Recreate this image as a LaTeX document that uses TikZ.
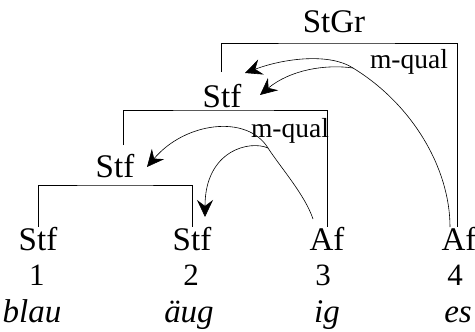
\documentclass[tikz,border=0pt]{standalone}
\usepackage{fontspec}
\setmainfont{Liberation Serif}
\usetikzlibrary{arrows.meta}
\begin{document}
\begin{tikzpicture}[x=1pt,y=-1pt,
  cat/.style={anchor=base,inner sep=0pt,font=\fontsize{33}{39}\selectfont},
  num/.style={anchor=base,inner sep=0pt,font=\fontsize{31}{36}\selectfont},
  word/.style={anchor=base,inner sep=0pt,font=\fontsize{33}{40}\selectfont\itshape},
  rel/.style={anchor=base,inner sep=0pt,font=\fontsize{27.5}{32}\selectfont},
  brk/.style={line width=0.8pt},
  dep/.style={line width=0.6pt},
  tipd/.style={-{Stealth[length=17pt,width=16pt,inset=6pt]}}]
\useasboundingbox (0,0) rectangle (475,332);
% bottom row
\node[cat] (s1) at (38,250) {Stf};
\node[cat] (s2) at (192,250) {Stf};
\node[cat] (a3) at (327,250) {Af};
\node[cat] (a4) at (459,250) {Af};
\node[num] (n1) at (37,285) {1};
\node[num] (n2) at (191,285) {2};
\node[num] (n3) at (323,285) {3};
\node[num] (n4) at (455,285) {4};
\node[word] (w1) at (32,322) {blau};
\node[word] (w2) at (189,322) {äug};
\node[word] (w3) at (327,322) {ig};
\node[word] (w4) at (458,322) {es};
% higher labels
\node[cat] (p1) at (115,177) {Stf};
\node[cat] (p2) at (222,107) {Stf};
\node[cat] (p3) at (334,33) {StGr};
\node[rel] (r1) at (409,68) {m-qual};
\node[rel] (r2) at (290,137) {m-qual};
% brackets
\coordinate (b1) at (115,185);
\coordinate (b2) at (222,110);
\coordinate (b3) at (334,43);
\coordinate (e2) at (123,145);
\coordinate (e3) at (221,72);
\draw[brk] (s1.north) |- (b1) -| (s2.north);
\draw[brk] (e2) |- (b2) -| (a3.north);
\draw[brk] (e3) |- (b3) -| ([xshift=-2pt]a4.north);
% dependency curves
\coordinate (ca) at (313,219);
\coordinate (ka) at (268,148);
\coordinate (ta1) at (147,167);
\coordinate (ta2) at (205,217);
\coordinate (cb) at (450,227);
\coordinate (kb) at (353,68);
\coordinate (tb1) at (245,73);
\coordinate (tb2) at (260,95);
\draw[dep,tipd] (ca) .. controls (305,195) and (281,168) .. (ka)
  .. controls (247,114) and (185,122) .. (ta1);
\draw[dep,tipd] (ka) .. controls (250,140) and (205,150) .. (ta2);
\draw[dep,tipd] (cb) .. controls (450,168) and (412,104) .. (kb)
  .. controls (330,53) and (285,58) .. (tb1);
\draw[dep,tipd] (kb) .. controls (325,64) and (290,70) .. (tb2);
\end{tikzpicture}
\end{document}
